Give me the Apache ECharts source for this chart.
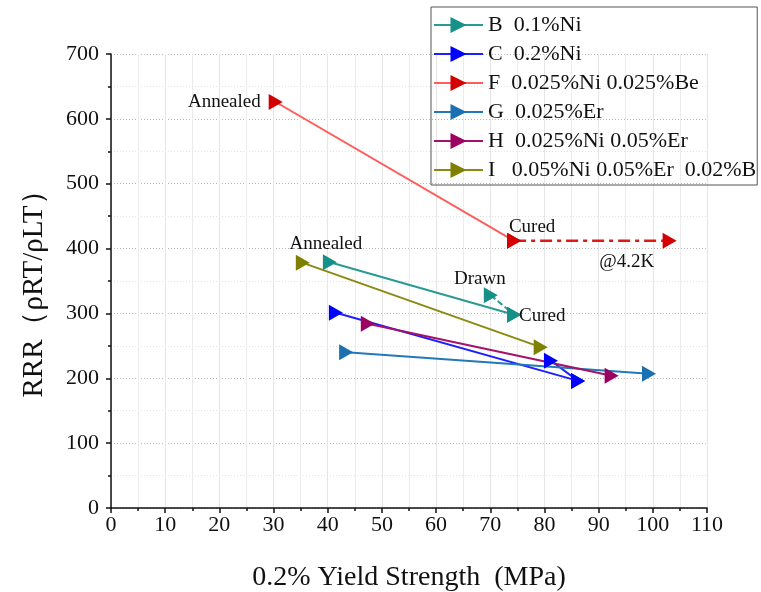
<!DOCTYPE html>
<html>
<head>
<meta charset="utf-8">
<title>RRR vs Yield Strength</title>
<script src="https://cdn.jsdelivr.net/npm/echarts@6/dist/echarts.min.js"></script>
<style>
  html, body { margin: 0; padding: 0; background: #fff; }
  #chart { width: 761px; height: 592px; }
</style>
</head>
<body>
<div id="chart"></div>
<script>
// 各合金: [屈服强度 MPa, RRR]，退火 -> 固化
const B_main = [[40.4, 379], [74.4, 298]]
const B_drawn = [[70.1, 328], [74.4, 298]]
const C_main = [[41.5, 301], [86.2, 196]]
const C_drawn = [[81.2, 227], [86.2, 196]]
const F_main = [[30.4, 626], [74.4, 412]]
const F_4K = [[74.4, 412], [103.1, 412]]
const G_main = [[43.4, 240], [99.3, 207]]
const H_main = [[47.4, 284], [92.4, 204]]
const I_main = [[35.4, 378], [79.3, 248]]

const legendNames = [
  'B  0.1%Ni',
  'C  0.2%Ni',
  'F  0.025%Ni 0.025%Be',
  'G  0.025%Er',
  'H  0.025%Ni 0.05%Er',
  'I   0.05%Ni 0.05%Er  0.02%B'
]

const FONT = 'Liberation Serif'
const TRI = 'path://M0,0 L10,5 L0,10 Z'

// 数据点标签
function lbl (text, position, offset, distance) {
  return {
    show: true,
    formatter: text,
    position: position,
    offset: offset || [0, 0],
    distance: distance === undefined ? 5 : distance,
    color: '#111',
    fontFamily: FONT,
    fontSize: 19
  }
}

function withLabels (pts, labels) {
  return pts.map((p, i) => labels && labels[i] ? { value: p, label: labels[i] } : p)
}

function mkSeries (name, data, lineColor, markColor, lineType) {
  return {
    name: name,
    type: 'line',
    data: data,
    symbol: TRI,
    symbolSize: [14, 16],
    showSymbol: true,
    lineStyle: { color: lineColor, width: 2, type: lineType || 'solid' },
    itemStyle: { color: markColor },
    emphasis: { disabled: true },
    z: 3
  }
}

const chart = echarts.init(document.getElementById('chart'))

const option = {
  animation: false,
  backgroundColor: '#fff',
  grid: { left: 111, right: 54, top: 54, bottom: 84, outerBoundsMode: 'none' },
  legend: {
    data: legendNames,
    orient: 'vertical',
    left: 431,
    top: 7,
    padding: [7, 1, 4, 2],
    itemWidth: 49,
    itemHeight: 20,
    itemGap: 7,
    borderColor: '#555',
    borderWidth: 1,
    textStyle: { fontFamily: FONT, fontSize: 22, color: '#111' }
  },
  xAxis: {
    type: 'value',
    min: 0,
    max: 110,
    interval: 10,
    name: '0.2% Yield Strength  (MPa)',
    nameLocation: 'middle',
    nameGap: 56,
    nameTextStyle: { fontFamily: FONT, fontSize: 28, color: '#111' },
    axisLine: { show: true, onZero: false, lineStyle: { color: '#111', width: 1.5 } },
    axisTick: { show: true, inside: false, length: 5, lineStyle: { color: '#111', width: 1.5 } },
    minorTick: { show: true, splitNumber: 2, length: 3, lineStyle: { color: '#111', width: 1.5 } },
    axisLabel: { fontFamily: FONT, fontSize: 22, color: '#111', margin: 6 },
    splitLine: { show: true, lineStyle: { color: '#e6e6e6', width: 1 } },
    minorSplitLine: { show: true, lineStyle: { color: '#ececec', width: 1 } }
  },
  yAxis: {
    type: 'value',
    min: 0,
    max: 700,
    interval: 100,
    name: 'RRR（ρRT/ρLT）',
    nameLocation: 'middle',
    nameGap: 62,
    nameTextStyle: { fontFamily: FONT, fontSize: 29, color: '#111', padding: [0, 12, 0, 0] },
    axisLine: { show: true, onZero: false, lineStyle: { color: '#111', width: 1.5 } },
    axisTick: { show: true, inside: false, length: 5, lineStyle: { color: '#111', width: 1.5 } },
    minorTick: { show: true, splitNumber: 2, length: 3, lineStyle: { color: '#111', width: 1.5 } },
    axisLabel: { fontFamily: FONT, fontSize: 22, color: '#111', margin: 12 },
    splitLine: { show: true, lineStyle: { color: '#b8b8b8', width: 1, type: [1, 2] } },
    minorSplitLine: { show: true, lineStyle: { color: '#e2e2e2', width: 1, type: [1, 2] } }
  },
  series: [
    mkSeries(legendNames[0], withLabels(B_main, [lbl('Annealed', 'top', [-4, 0], 1)]), '#2a9a92', '#179088'),
    mkSeries(null, withLabels(B_drawn, [lbl('Drawn', 'top', [-11, 0], -1), lbl('Cured', 'right', [0, 1], -2)]), '#2a9a92', '#179088', [6, 3]),
    mkSeries(legendNames[1], C_main, '#1e1eff', '#0000ff'),
    mkSeries(null, C_drawn, '#1e1eff', '#0000ff'),
    mkSeries(legendNames[2], withLabels(F_main, [lbl('Annealed', 'left', [0, 0], 8), lbl('Cured', 'top', [18, 0], -4)]), '#ff5c5c', '#d40000'),
    mkSeries(null, withLabels(F_4K, [null, lbl('@4.2K', 'bottom', [-43, 0], 4)]), '#e01818', '#d40000', [12, 5, 4, 5]),
    mkSeries(legendNames[3], G_main, '#2079b8', '#1a70b0'),
    mkSeries(legendNames[4], H_main, '#a4126a', '#9c0060'),
    mkSeries(legendNames[5], I_main, '#8a8a12', '#808000')
  ]
}
option.series[5].lineStyle.width = 2.5

chart.setOption(option)
</script>
</body>
</html>
